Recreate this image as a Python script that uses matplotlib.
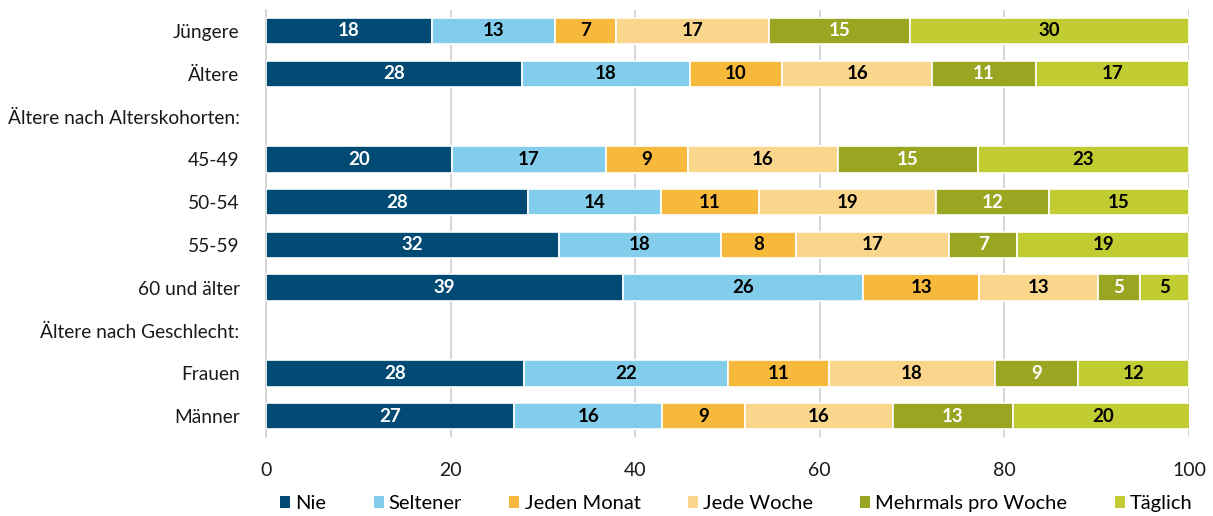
import numpy as np
import matplotlib.pyplot as plt
from matplotlib.patches import Patch

plt.rcParams['font.family'] = ['Lato', 'DejaVu Sans']

# rows from top to bottom, None = heading without bar
rows = ["Jüngere", "Ältere", "Ältere nach Alterskohorten:", "45-49", "50-54",
        "55-59", "60 und älter", "Ältere nach Geschlecht:", "Frauen", "Männer"]
categories = ["Nie", "Seltener", "Jeden Monat", "Jede Woche", "Mehrmals pro Woche", "Täglich"]

nie      = [18.0, 27.7, None, 20.1, 28.4, 31.7, 38.7, None, 28.0, 26.9]
seltener = [13.3, 18.2, None, 16.7, 14.4, 17.6, 26.0, None, 22.1, 16.0]
monat    = [6.6, 10.0, None, 8.9, 10.6, 8.1, 12.6, None, 10.9, 9.0]
woche    = [16.6, 16.3, None, 16.3, 19.2, 16.6, 12.8, None, 18.0, 16.0]
mehrmals = [15.3, 11.2, None, 15.1, 12.2, 7.4, 4.6, None, 9.0, 13.0]
taeglich = [30.2, 16.6, None, 22.9, 15.2, 18.6, 5.3, None, 12.0, 19.5]

colors = ["#004a73", "#82cdeb", "#f7b93c", "#fad58c", "#9aa622", "#c1cb32"]
text_colors = ["white", "black", "black", "black", "white", "black"]

series = [nie, seltener, monat, woche, mehrmals, taeglich]

fig = plt.figure(figsize=(12.13, 5.16), dpi=100)
ax = fig.add_axes([0.2193, 0.1523, 0.7609, 0.8291])

y = np.arange(len(rows))
left = np.zeros(len(rows))
for vals, col, tcol in zip(series, colors, text_colors):
    for i, v in enumerate(vals):
        if v is None:
            continue
        ax.barh(y[i], v, left=left[i], height=0.62, color=col,
                edgecolor="white", linewidth=1.2, zorder=3)
        ax.text(left[i] + v / 2, y[i], str(int(v + 0.5)), ha="center", va="center",
                color=tcol, fontsize=13.5, fontweight="bold", zorder=4)
        left[i] += v

ax.set_ylim(len(rows) - 0.5, -0.5)
ax.set_xlim(0, 100)
ax.set_yticks(y)
ax.set_yticklabels(rows, fontsize=13.8, color="#1a1a1a")
ax.set_xticks([0, 20, 40, 60, 80, 100])
ax.tick_params(axis="both", length=0, colors="#1a1a1a")
ax.tick_params(axis="y", pad=19)
ax.tick_params(axis="x", pad=18, labelsize=14)
ax.grid(axis="x", color="#d0d0d0", linewidth=1.2, zorder=0)
for s in ["top", "right", "bottom"]:
    ax.spines[s].set_visible(False)
ax.spines["left"].set_color("#d0d0d0")
ax.spines["left"].set_linewidth(1.2)

handles = [Patch(facecolor=c, edgecolor="none") for c in colors]
fig.legend(handles, categories, loc="lower center", bbox_to_anchor=(0.607, -0.028), ncol=6,
           frameon=False, fontsize=14.5, handlelength=0.5, handleheight=0.5,
           handletextpad=0.25, columnspacing=2.35)

fig.savefig("out.png", dpi=100)
